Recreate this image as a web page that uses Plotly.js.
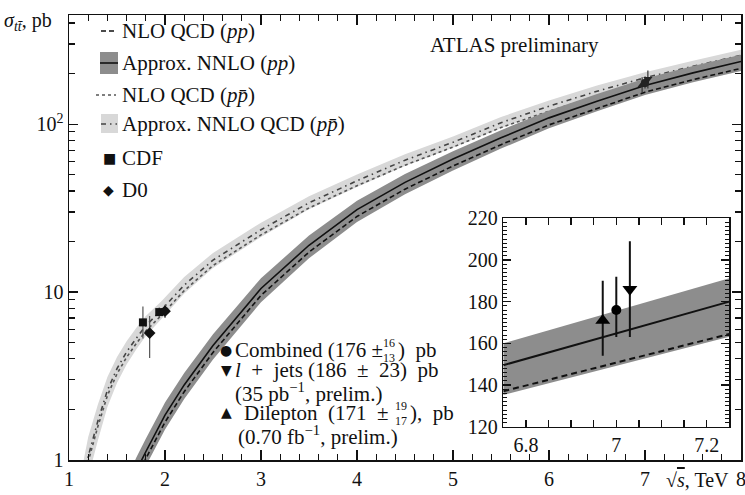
<!DOCTYPE html>
<html>
<head>
<meta charset="utf-8">
<script src="https://cdn.plot.ly/plotly-3.0.1.min.js"></script>
<style>html,body{margin:0;padding:0;background:#fff;}</style>
</head>
<body>
<div id="chart" style="width:745px;height:495px;"></div>
<script>
// Top-quark pair production cross section versus centre-of-mass energy

// pp collisions: approx. NNLO (central value and band) and NLO QCD
const energyPP   = [1.6, 1.7, 1.8, 1.9, 2.0, 2.2, 2.5, 3.0, 3.5, 4.0, 4.5, 5.0, 5.5, 6.0, 6.5, 7.0, 7.5, 8.0];
const nnloPP     = [0.64, 0.86, 1.12, 1.45, 1.85, 2.8, 4.8, 10.5, 19, 31, 45, 62, 83, 109, 137, 170, 202, 236];
const nnloPPHigh = [0.77, 1.03, 1.34, 1.73, 2.2, 3.3, 5.6, 12.1, 21.7, 35, 50.5, 69, 92, 120.5, 151, 187, 222, 259];
const nnloPPLow  = [0.52, 0.71, 0.92, 1.19, 1.52, 2.31, 3.97, 8.7, 15.9, 26.1, 38.2, 53, 71.5, 94.5, 119.5, 149, 177.5, 207.5];
const nloPP      = [0.58, 0.78, 1.02, 1.32, 1.68, 2.55, 4.37, 9.55, 17.3, 28.2, 41, 56.4, 75.5, 99, 124.5, 155, 184, 215];

// p-pbar collisions: approx. NNLO (central value and band) and NLO QCD
const energyPPbar   = [1.15, 1.2, 1.3, 1.4, 1.5, 1.6, 1.7, 1.8, 1.96, 2.2, 2.5, 3.0, 3.5, 4.0, 4.5, 5.0, 5.5, 6.0, 6.5, 7.0, 7.5, 8.0];
const nnloPPbar     = [0.75, 1.05, 1.7, 2.6, 3.5, 4.4, 5.3, 6.3, 7.8, 11, 15.5, 23.5, 34, 46, 61, 78, 102, 128, 157, 189, 221, 257];
const nnloPPbarHigh = [0.98, 1.37, 2.13, 3.12, 4.1, 5.1, 6.1, 7.2, 8.8, 12.3, 17.1, 25.9, 37.2, 50.1, 66.2, 84.5, 110.3, 138.2, 169.6, 204, 238.7, 277.6];
const nnloPPbarLow  = [0.56, 0.79, 1.3, 2.07, 2.87, 3.7, 4.55, 5.48, 6.9, 9.8, 13.9, 21.3, 31.1, 42.3, 56.4, 72.3, 94.6, 119, 146, 176, 205.5, 239];
const nloPPbar      = [0.7, 0.98, 1.58, 2.42, 3.26, 4.09, 4.93, 5.86, 7.25, 10.2, 14.4, 21.9, 31.7, 43, 57, 73, 95.5, 119.5, 146.5, 176.5, 206, 240];

// Tevatron measurements
const cdfEnergy = [1.77, 1.94];
const cdfXsec   = [6.6, 7.6];
const cdfErrUp  = [1.6, 0.5];
const cdfErrDn  = [1.3, 0.5];
const d0Energy  = [1.84, 2.0];
const d0Xsec    = [5.7, 7.7];
const d0ErrUp   = [1.5, 0.7];
const d0ErrDn   = [1.65, 0.7];

// ATLAS 7 TeV measurements: dilepton, combined, l+jets
const atlasEnergy = [6.97, 7.0, 7.03];
const atlasXsec   = [171, 176, 186];
const atlasErrUp  = [19, 16, 23];
const atlasErrDn  = [17, 13, 23];
const atlasSymbol = ['triangle-up', 'circle', 'triangle-down'];

// zoomed pp prediction around 7 TeV
const zoomEnergy   = [6.75, 7.25];
const zoomNNLO     = [149.5, 180];
const zoomNNLOHigh = [160, 191.2];
const zoomNNLOLow  = [135.2, 163.2];
const zoomNLO      = [137.0, 164.5];

const W = 745, H = 495, ML = 69, MR = 4, MT = 15, MB = 35;
const fx = p => (p - ML) / (W - ML - MR);
const fy = p => (H - MB - p) / (H - MT - MB);

const SERIF = 'Liberation Serif, Times New Roman, serif';
const DARK = '#8d8d8d', LIGHT = '#d8d8d8';

const traces = [
  // p-pbar band
  {x: energyPPbar, y: nnloPPbarLow, mode: 'lines', line: {width: 0}},
  {x: energyPPbar, y: nnloPPbarHigh, mode: 'lines', line: {width: 0}, fill: 'tonexty', fillcolor: LIGHT},
  {x: energyPPbar, y: nloPPbar, mode: 'lines', line: {color: '#555', width: 1.6, dash: 'dot'}},
  {x: energyPPbar, y: nnloPPbar, mode: 'lines', line: {color: '#444', width: 1.6, dash: '5px,4px,1.5px,4px'}},
  // pp band
  {x: energyPP, y: nnloPPLow, mode: 'lines', line: {width: 0}},
  {x: energyPP, y: nnloPPHigh, mode: 'lines', line: {width: 0}, fill: 'tonexty', fillcolor: DARK},
  {x: energyPP, y: nloPP, mode: 'lines', line: {color: '#111', width: 1.6, dash: '5px,3px'}},
  {x: energyPP, y: nnloPP, mode: 'lines', line: {color: '#111', width: 1.6}},
  // measurements
  {x: cdfEnergy, y: cdfXsec, mode: 'markers', marker: {symbol: 'square', size: 8, color: '#111', line: {width: 0}},
   error_y: {type: 'data', symmetric: false, array: cdfErrUp, arrayminus: cdfErrDn, width: 0, thickness: 1.2, color: '#555'}},
  {x: d0Energy, y: d0Xsec, mode: 'markers', marker: {symbol: 'diamond', size: 9, color: '#111', line: {width: 0}},
   error_y: {type: 'data', symmetric: false, array: d0ErrUp, arrayminus: d0ErrDn, width: 0, thickness: 1.2, color: '#555'}},
  {x: atlasEnergy, y: atlasXsec, mode: 'markers', marker: {symbol: atlasSymbol, size: 8, color: '#222', line: {width: 0}},
   error_y: {type: 'data', symmetric: false, array: atlasErrUp, arrayminus: atlasErrDn, width: 0, thickness: 1.2, color: '#333'}},
  // zoomed view
  {x: zoomEnergy, y: zoomNNLOLow, xaxis: 'x2', yaxis: 'y2', mode: 'lines', line: {width: 0}},
  {x: zoomEnergy, y: zoomNNLOHigh, xaxis: 'x2', yaxis: 'y2', mode: 'lines', line: {width: 0}, fill: 'tonexty', fillcolor: DARK},
  {x: zoomEnergy, y: zoomNLO, xaxis: 'x2', yaxis: 'y2', mode: 'lines', line: {color: '#111', width: 2, dash: '6px,4px'}},
  {x: zoomEnergy, y: zoomNNLO, xaxis: 'x2', yaxis: 'y2', mode: 'lines', line: {color: '#111', width: 2}},
  {x: atlasEnergy, y: atlasXsec, xaxis: 'x2', yaxis: 'y2', mode: 'markers',
   marker: {symbol: atlasSymbol, size: [13, 10, 13], color: '#000', opacity: 1, line: {width: 0}},
   error_y: {type: 'data', symmetric: false, array: atlasErrUp, arrayminus: atlasErrDn, width: 0, thickness: 2, color: '#111'}}
];
traces.forEach(t => { t.showlegend = false; t.hoverinfo = 'skip'; });

const yMinor = [];
[1, 10, 100].forEach(d => { for (let k = 2; k <= 9; k++) if (d * k < 450) yMinor.push(d * k); });

const axisLine = {showline: true, linecolor: '#111', linewidth: 1.5, mirror: 'allticks', showgrid: false,
                  zeroline: false, ticks: 'inside', tickcolor: '#111', tickwidth: 1.2, ticklabeloverflow: 'allow'};
const tickFont = {family: SERIF, size: 20, color: '#111'};

const layout = {
  width: W, height: H,
  margin: {l: ML, r: MR, t: MT, b: MB, pad: 0},
  paper_bgcolor: '#fff', plot_bgcolor: '#fff',
  font: {family: SERIF, size: 20, color: '#111'},
  showlegend: false,
  xaxis: Object.assign({}, axisLine, {
    range: [1, 8], tickvals: [1, 2, 3, 4, 5, 6, 7, 8], ticklen: 10,
    minor: {tick0: 1, dtick: 0.2, ticks: 'inside', ticklen: 6, tickcolor: '#111', tickwidth: 1.2},
    tickfont: tickFont
  }),
  yaxis: Object.assign({}, axisLine, {
    type: 'log', range: [0, 2.65], tickvals: [1, 10, 100], ticktext: ['1', '10', '10<sup>2</sup>'], ticklen: 9,
    minor: {tickvals: yMinor, ticks: 'inside', ticklen: 6, tickcolor: '#111', tickwidth: 1.2},
    tickfont: tickFont
  }),
  xaxis2: Object.assign({}, axisLine, {
    domain: [fx(503.3), fx(729.3)], anchor: 'y2', range: [6.75, 7.25],
    tickvals: [6.8, 7.0, 7.2], ticktext: ['6.8', '7', '7.2'], ticklen: 7,
    minor: {tick0: 6.75, dtick: 0.05, ticks: 'inside', ticklen: 7, tickcolor: '#111', tickwidth: 1.2},
    tickfont: tickFont
  }),
  yaxis2: Object.assign({}, axisLine, {
    domain: [fy(426.7), fy(218.3)], anchor: 'x2', range: [120, 220],
    tickvals: [120, 140, 160, 180, 200, 220], ticklen: 8,
    minor: {tick0: 120, dtick: 2, ticks: 'inside', ticklen: 4, tickcolor: '#111', tickwidth: 1},
    tickfont: tickFont
  }),
  shapes: [],
  annotations: []
};

function note(text, x, y, xanchor, size, extra) {
  layout.annotations.push(Object.assign({
    text: text, xref: 'paper', yref: 'paper', x: fx(x), y: fy(y),
    xanchor: xanchor || 'left', yanchor: 'middle', showarrow: false, borderpad: 0,
    font: {family: SERIF, size: size || 20, color: '#111'}
  }, extra || {}));
}
function rect(x0, y0, x1, y1, fill) {
  layout.shapes.push({type: 'rect', xref: 'paper', yref: 'paper', x0: fx(x0), x1: fx(x1), y0: fy(y0), y1: fy(y1),
    fillcolor: fill, line: {width: 0}});
}
function hline(x0, x1, y, color, dash) {
  layout.shapes.push({type: 'line', xref: 'paper', yref: 'paper', x0: fx(x0), x1: fx(x1), y0: fy(y), y1: fy(y),
    line: {color: color, width: 1.6, dash: dash || 'solid'}});
}
const PBAR = 'p\u0304';

// axis titles and experiment label
note('<i>σ</i><sub><i>tt̄</i></sub>, pb', 3, 22, 'left', 20);
note('√<span style="text-decoration:overline"><i>s</i></span>, TeV', 697, 480, 'center', 20);
note('ATLAS preliminary', 514, 45, 'center', 21);

// key for the predictions and Tevatron data
hline(101, 117, 31, '#111', '5px,3px');
note('NLO QCD (<i>pp</i>)', 121, 31, 'left', 21);
rect(100, 52, 118, 74, DARK);
hline(100, 118, 63, '#111');
note('Approx. NNLO (<i>pp</i>)', 121, 63, 'left', 21);
hline(96, 116, 95, '#555', 'dot');
note('NLO QCD (<i>p' + PBAR + '</i>)', 121, 95, 'left', 21);
rect(101, 114, 118, 133, LIGHT);
hline(101, 117, 124, '#444', '5px,4px,1.5px,4px');
note('Approx. NNLO QCD (<i>p' + PBAR + '</i>)', 121, 124, 'left', 21);
const glyph = {family: 'DejaVu Sans', size: 14, color: '#111'};
note('■', 109, 158, 'center', 14, {font: glyph});
note('CDF', 121, 158, 'left', 21);
note('◆', 108, 190, 'center', 14, {font: glyph});
note('D0', 121, 190, 'left', 21);

// key for the ATLAS measurements
note('●', 226, 350, 'center', 14, {font: glyph});
note('Combined (176 ±', 234, 350, 'left', 21);
note('16', 389, 343, 'center', 12);
note('13', 389, 358, 'center', 12);
note(')\u2002pb', 397, 350, 'left', 21);
note('▼', 226, 370, 'center', 14, {font: glyph});
note('<i>l</i>\u2002+\u2002jets (186\u2002±\u200223)\u2002pb', 234, 370, 'left', 21);
note('(35 pb<sup>−1</sup>, prelim.)', 234, 392, 'left', 21);
note('▲', 226, 412, 'center', 14, {font: glyph});
note('Dilepton\u2002(171\u2002±', 243, 413, 'left', 21);
note('19', 401, 406, 'center', 12);
note('17', 401, 421, 'center', 12);
note('),\u2002pb', 409, 413, 'left', 21);
note('(0.70 fb<sup>−1</sup>, prelim.)', 237, 435, 'left', 21);

Plotly.newPlot('chart', traces, layout, {staticPlot: true, displayModeBar: false});
</script>
</body>
</html>
